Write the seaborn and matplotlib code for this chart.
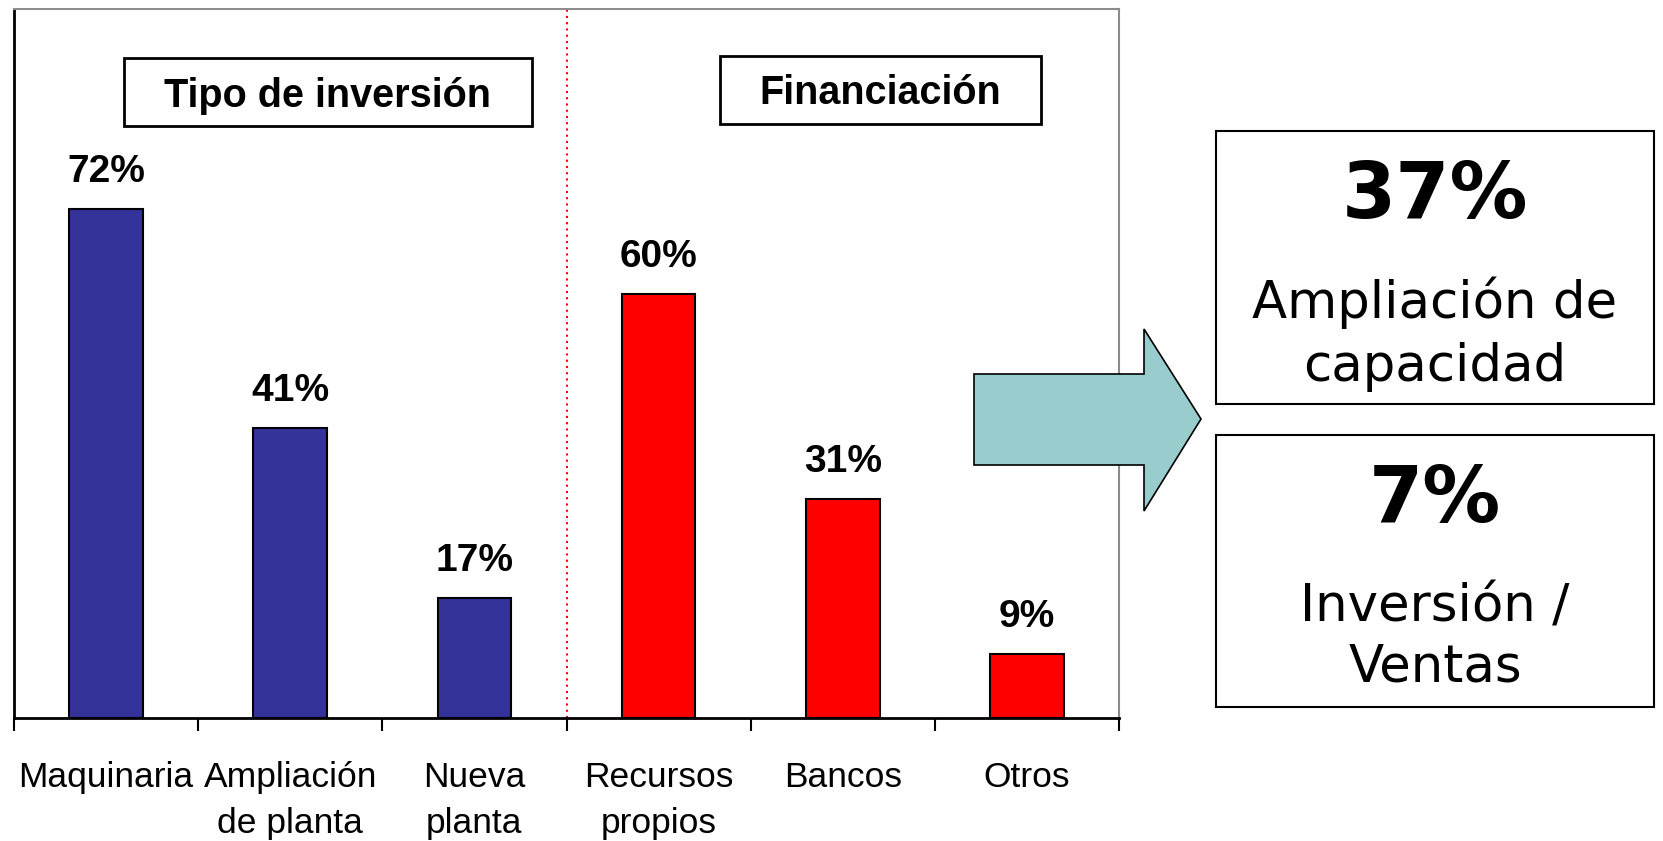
import matplotlib
matplotlib.use("Agg")
import matplotlib.pyplot as plt
import seaborn as sns
import pandas as pd
from matplotlib.patches import Rectangle, Polygon

# ---------------- data ----------------
categorias = ["Maquinaria", "Ampliación\nde planta", "Nueva\nplanta",
              "Recursos\npropios", "Bancos", "Otros"]
valores = [72, 41, 17, 60, 31, 9]
grupos = ["Tipo de inversión"] * 3 + ["Financiación"] * 3
titulos_grupo = ["Tipo de inversión", "Financiación"]
colores = {"Tipo de inversión": "#333399", "Financiación": "#FF0000"}
kpi_valores = ["37%", "7%"]
kpi_textos = [["Ampliación de", "capacidad"], ["Inversión /", "Ventas"]]

# ---------------- figure ----------------
W, H = 1663, 841
sns.set_theme(style="white")
plt.rcParams["font.family"] = ["Liberation Sans", "DejaVu Sans"]
plt.rcParams["text.color"] = "black"
plt.rcParams["xtick.color"] = "black"
plt.rcParams["xtick.labelcolor"] = "black"

fig = plt.figure(figsize=(W / 100, H / 100), dpi=100)
fig.patch.set_facecolor("white")


def fx(x):
    return x / W


def fy(y):
    return 1 - y / H


ax_l, ax_r, ax_t, ax_b = 14, 1119, 8.5, 718
ax = fig.add_axes([fx(ax_l), fy(ax_b), (ax_r - ax_l) / W, (ax_b - ax_t) / H])

df = pd.DataFrame({"cat": categorias, "val": valores, "grupo": grupos})
sns.barplot(data=df, x="cat", y="val", hue="grupo", palette=colores,
            dodge=False, width=0.4, edgecolor="black", linewidth=1.5,
            legend=False, order=categorias, ax=ax, saturation=1)

ax.set_xlim(-0.5, 5.5)
ax.set_ylim(0, 100.4)
ax.set_xlabel("")
ax.set_ylabel("")
ax.set_yticks([])

ax.set_xticks(range(len(categorias)))
ax.set_xticklabels(categorias, fontsize=25.5, linespacing=1.48, color="black")
ax.set_xticks([i - 0.5 for i in range(len(categorias) + 1)], minor=True)
ax.tick_params(axis="x", which="major", length=0, pad=31, bottom=True)
ax.tick_params(axis="x", which="minor", length=9.5, width=1.5,
               color="black", direction="out", bottom=True)

for s in ["left", "bottom"]:
    ax.spines[s].set_color("black")
    ax.spines[s].set_linewidth(2)
for s in ["top", "right"]:
    ax.spines[s].set_color("#8c8c8c")
    ax.spines[s].set_linewidth(1.5)

ax.axvline(2.5, color="red", linestyle=(0, (1, 2)), linewidth=1.5)

# value labels
for i, v in enumerate(valores):
    ax.annotate(f"{v}%", (i, v), xytext=(0, 19.5), textcoords="offset points",
                ha="center", va="baseline", fontsize=28, fontweight="bold",
                color="black")

# group title boxes (figure pixel geometry)
cajas = [(124, 58, 532, 126), (720, 56, 1041, 124)]
centros_x = [328, 880]
bases_y = [107, 104.5]
for titulo, (x0, y0, x1, y1), cx, by in zip(titulos_grupo, cajas, centros_x, bases_y):
    fig.patches.append(Rectangle((fx(x0), fy(y1)), (x1 - x0) / W, (y1 - y0) / H,
                                 transform=fig.transFigure, facecolor="white",
                                 edgecolor="black", linewidth=2, zorder=3))
    fig.text(fx(cx), fy(by), titulo, ha="center", va="baseline", color="black",
             fontsize=28.5, fontweight="bold", zorder=4)

# arrow
flecha = [(974, 374), (1144, 374), (1144, 329), (1201, 419),
          (1144, 511), (1144, 465), (974, 465)]
fig.patches.append(Polygon([(fx(x), fy(y)) for x, y in flecha], closed=True,
                           transform=fig.transFigure, facecolor="#99CCCC",
                           edgecolor="black", linewidth=1.2, zorder=5))

# KPI boxes
kpi_cajas = [(1216, 131, 1654, 404), (1216, 435, 1654, 707)]
kpi_base_valor = [218, 522]
kpi_base_lineas = [[318, 381.5], [622, 681.5]]
for val, lineas, (x0, y0, x1, y1), bv, bl in zip(kpi_valores, kpi_textos, kpi_cajas,
                                                kpi_base_valor, kpi_base_lineas):
    fig.patches.append(Rectangle((fx(x0), fy(y1)), (x1 - x0) / W, (y1 - y0) / H,
                                 transform=fig.transFigure, facecolor="white",
                                 edgecolor="black", linewidth=1.5, zorder=3))
    cx = (x0 + x1) / 2
    fig.text(fx(cx), fy(bv), val, ha="center", va="baseline", fontsize=56,
             fontweight="bold", family="DejaVu Sans", color="black", zorder=4)
    for linea, b in zip(lineas, bl):
        fig.text(fx(cx), fy(b), linea, ha="center", va="baseline", fontsize=37,
                 family="DejaVu Sans", color="black", zorder=4)

fig.savefig("out.png", dpi=100, facecolor="white")
